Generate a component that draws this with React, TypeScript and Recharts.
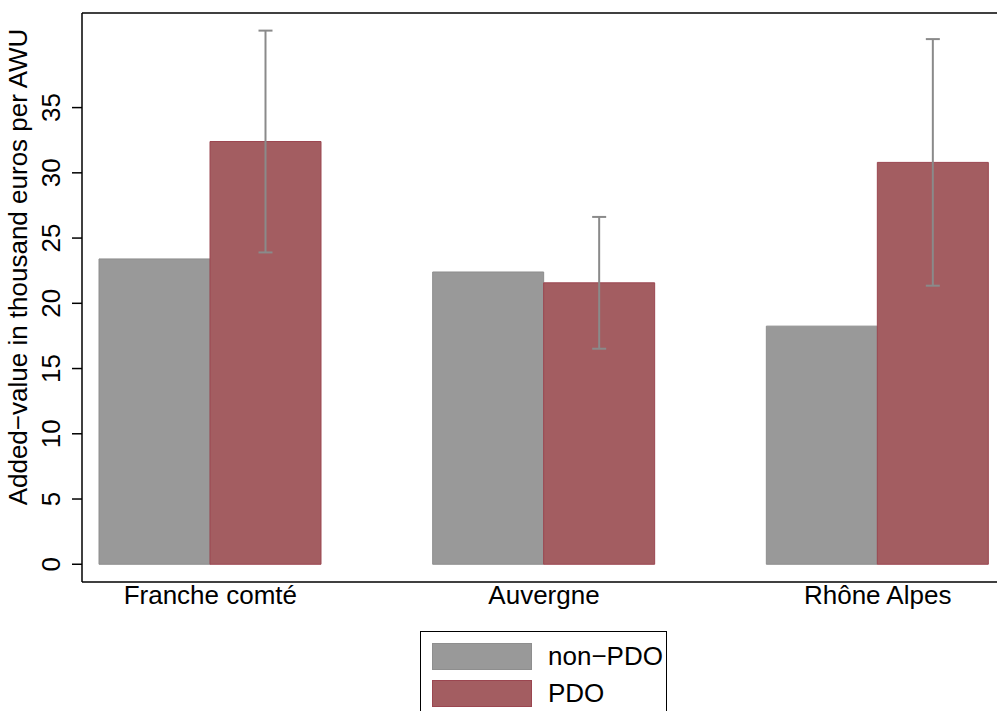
import React from "react";
import {
  BarChart,
  Bar,
  XAxis,
  YAxis,
  ErrorBar,
  ReferenceLine,
  Legend,
} from "recharts";

const regions = ["Franche comté", "Auvergne", "Rhône Alpes"];
const nonPdoValues = [23.4, 22.4, 18.25];
const pdoValues = [32.4, 21.57, 30.8];
const pdoErrors = [8.5, 5.05, 9.45];
const yTicks = [0, 5, 10, 15, 20, 25, 30, 35];

const FONT = "'Liberation Sans', Arial, Helvetica, sans-serif";
const GREY = "#999999";
const RED = "#A35D61";

const data = regions.map((region, i) => ({
  region,
  nonPdo: nonPdoValues[i],
  pdo: pdoValues[i],
  pdoErr: pdoErrors[i],
}));

// x-axis labels under each group
const XTick = ({ x, y, payload }: any) => (
  <text x={x} y={y + 20} textAnchor="middle" fontSize={26} fontFamily={FONT} fill="#000">
    {payload.value}
  </text>
);

// R style: tick labels parallel to the axis
const YTick = ({ x, y, payload }: any) => (
  <text
    x={x - 10}
    y={y}
    textAnchor="middle"
    fontSize={26}
    fontFamily={FONT}
    fill="#000"
    transform={`rotate(-90, ${x - 10}, ${y})`}
  >
    {payload.value}
  </text>
);

const YLabel = () => (
  <text
    x={27}
    y={267}
    textAnchor="middle"
    fontSize={26}
    fontFamily={FONT}
    fill="#000"
    transform="rotate(-90, 27, 267)"
  >
    Added−value in thousand euros per AWU
  </text>
);

const LegendBox = () => (
  <div
    style={{
      border: "1.5px solid #000",
      width: 247,
      height: 90,
      boxSizing: "border-box",
      position: "relative",
      fontFamily: FONT,
      fontSize: 26,
      background: "#fff",
    }}
  >
    {[
      { label: "non−PDO", fill: GREY, stroke: "#8e8e8e" },
      { label: "PDO", fill: RED, stroke: "#9b4650" },
    ].map((item, i) => (
      <div
        key={item.label}
        style={{ position: "absolute", left: 11, top: 11 + i * 37, display: "flex", alignItems: "center" }}
      >
        <div
          style={{
            width: 100,
            height: 27,
            background: item.fill,
            border: `1px solid ${item.stroke}`,
            boxSizing: "border-box",
          }}
        />
        <span style={{ marginLeft: 16, lineHeight: "27px" }}>{item.label}</span>
      </div>
    ))}
  </div>
);

export default function App() {
  return (
    <div
      style={{
        position: "absolute",
        left: 0,
        top: 0,
        width: 997,
        height: 711,
        overflow: "hidden",
        background: "#fff",
      }}
    >
      <BarChart
        width={1006}
        height={711}
        data={data}
        margin={{ top: 13, right: 0, bottom: 89, left: 0 }}
        barCategoryGap={55.5}
        barGap={0}
      >
        <XAxis
          dataKey="region"
          height={40}
          padding={{ left: -38.5, right: -38.5 }}
          tickLine={false}
          tickSize={0}
          tick={<XTick />}
          axisLine={{ stroke: "#000", strokeWidth: 1.5 }}
          interval={0}
        />
        <YAxis
          type="number"
          width={82}
          domain={[-1.36, 42.25]}
          ticks={yTicks}
          allowDataOverflow
          tickSize={10}
          tickLine={{ stroke: "#000", strokeWidth: 1.5 }}
          axisLine={{ stroke: "#000", strokeWidth: 1.5 }}
          tick={<YTick />}
          label={{ content: () => <YLabel /> }}
        />
        <ReferenceLine y={42.25} stroke="#000" strokeWidth={1.5} ifOverflow="extendDomain" />
        <Bar dataKey="nonPdo" fill={GREY} stroke="#8e8e8e" strokeWidth={1} isAnimationActive={false} />
        <Bar dataKey="pdo" fill={RED} stroke="#9b4650" strokeWidth={1} isAnimationActive={false}>
          <ErrorBar dataKey="pdoErr" direction="y" width={7} stroke="#8a8a8a" strokeWidth={2} />
        </Bar>
        <Legend
          layout="horizontal"
          verticalAlign="middle"
          align="center"
          content={() => <LegendBox />}
          wrapperStyle={{ left: 420, top: 631, width: 249, height: 90 }}
        />
      </BarChart>
    </div>
  );
}
